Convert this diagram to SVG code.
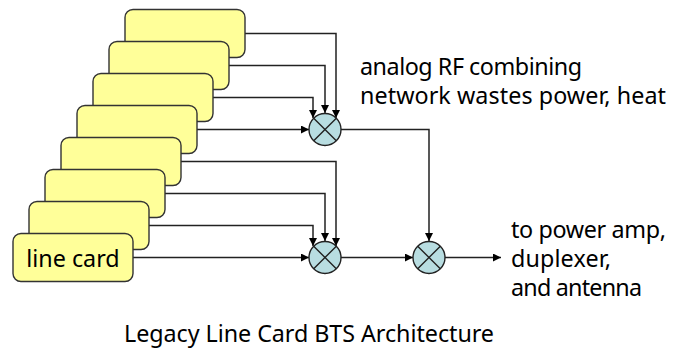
<svg xmlns="http://www.w3.org/2000/svg" width="678" height="350" viewBox="0 0 678 350">
<style>
.card{fill:#ffff99;stroke:#333;stroke-width:1.4}
.mix{fill:#b8dde1;stroke:#222;stroke-width:1.4}
.x{stroke:#222;stroke-width:1.4;fill:none}
.wire{fill:none;stroke:#222;stroke-width:1.5;marker-end:url(#arrow)}
text{font-family:"Noto Sans","DejaVu Sans",sans-serif;font-size:23.3px;fill:#000}
</style>
<defs>
<marker id="arrow" markerUnits="userSpaceOnUse" markerWidth="9" markerHeight="9" refX="8" refY="4" orient="auto"><path d="M0 0L8 4L0 8Z" fill="#000"/></marker>
<g id="mixer"><circle r="16" class="mix"/><path class="x" d="M-11.3-11.3L11.3 11.3M-11.3 11.3L11.3-11.3"/></g>
<rect id="cardshape" width="120" height="48" rx="8" class="card"/>
</defs>
<g id="connectors">
<path class="wire" d="M245 33.5H336V118"/>
<path class="wire" d="M229 65.5H325V113"/>
<path class="wire" d="M213 97.5H313V118"/>
<path class="wire" d="M197 129.5H309"/>
<path class="wire" d="M181 161.5H336V246"/>
<path class="wire" d="M165 193.5H325V241"/>
<path class="wire" d="M149 225.5H313V246"/>
<path class="wire" d="M133 257.5H309"/>
<path class="wire" d="M341 129.5H429V241"/>
<path class="wire" d="M341 257.5H413"/>
<path class="wire" d="M445 257.5H501"/>
</g>
<g id="card8"><use href="#cardshape" x="125" y="9.5"/></g>
<g id="card7"><use href="#cardshape" x="109" y="41.5"/></g>
<g id="card6"><use href="#cardshape" x="93" y="73.5"/></g>
<g id="card5"><use href="#cardshape" x="77" y="105.5"/></g>
<g id="card4"><use href="#cardshape" x="61" y="137.5"/></g>
<g id="card3"><use href="#cardshape" x="45" y="169.5"/></g>
<g id="card2"><use href="#cardshape" x="29" y="201.5"/></g>
<g id="card1"><use href="#cardshape" x="13" y="233.5"/><text x="73" y="266.5" text-anchor="middle">line card</text></g>
<g id="mixer-top"><use href="#mixer" x="325" y="129.5"/></g>
<g id="mixer-bottom"><use href="#mixer" x="325" y="257.5"/></g>
<g id="mixer-output"><use href="#mixer" x="429" y="257.5"/></g>
<g id="labels">
<text x="360" y="75" textLength="222">analog RF combining</text>
<text x="360" y="104" textLength="306">network wastes power, heat</text>
<text x="511" y="238" textLength="155">to power amp,</text>
<text x="511" y="267" textLength="100">duplexer,</text>
<text x="511" y="296" textLength="131">and antenna</text>
<text x="124" y="342" textLength="370">Legacy Line Card BTS Architecture</text>
</g>
</svg>
